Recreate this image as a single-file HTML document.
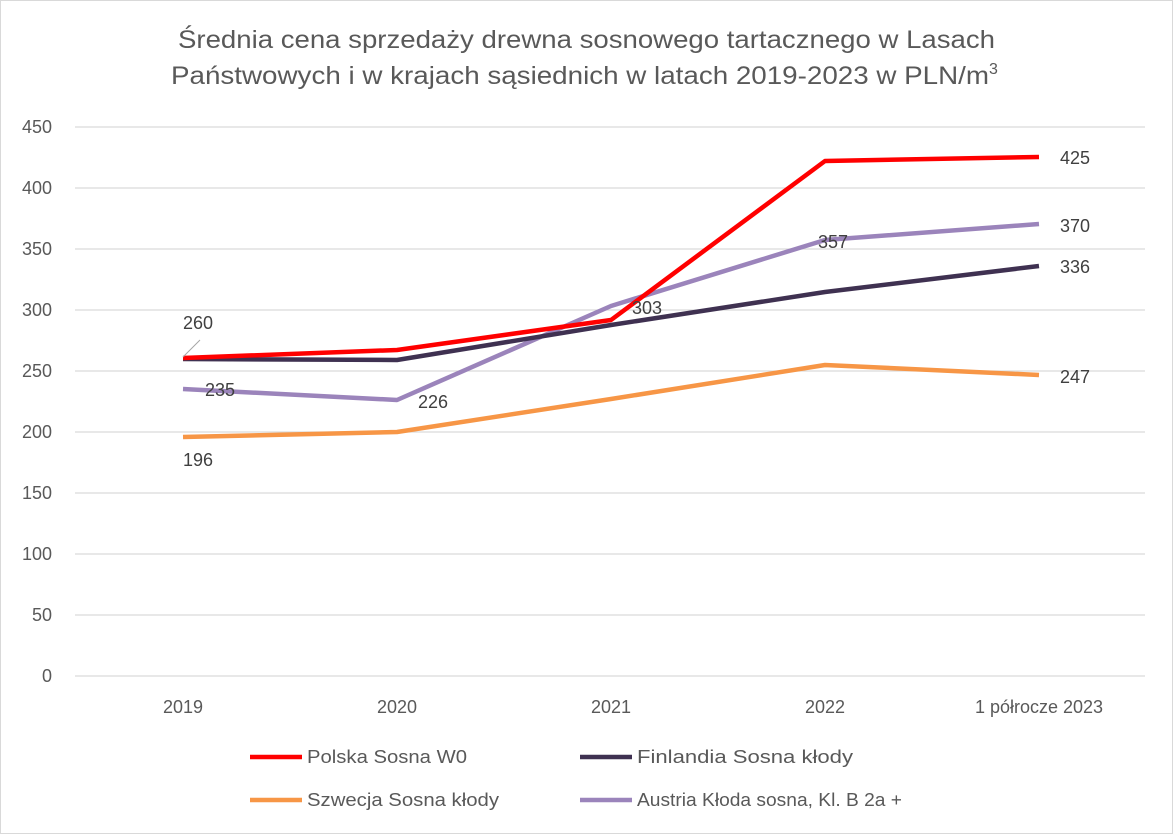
<!DOCTYPE html>
<html><head><meta charset="utf-8"><style>
html,body{margin:0;padding:0;background:#fff}
svg{display:block;font-family:"Liberation Sans",sans-serif}
</style></head><body>
<svg width="1173" height="834" viewBox="0 0 1173 834" xmlns="http://www.w3.org/2000/svg">
<rect x="0.5" y="0.5" width="1172" height="833" fill="#fff" stroke="#d9d9d9"/>
<g fill="#595959" font-size="25">
<text x="178" y="48" textLength="817" lengthAdjust="spacingAndGlyphs">Średnia cena sprzedaży drewna sosnowego tartacznego w Lasach</text>
<text x="171" y="84"><tspan textLength="818" lengthAdjust="spacingAndGlyphs">Państwowych i w krajach sąsiednich w latach 2019-2023 w PLN/m</tspan><tspan font-size="16" dy="-10">3</tspan></text>
</g>
<g stroke="#d9d9d9" stroke-width="1.3">
<line x1="75" x2="1145" y1="127" y2="127"/><line x1="75" x2="1145" y1="188" y2="188"/>
<line x1="75" x2="1145" y1="249" y2="249"/><line x1="75" x2="1145" y1="310" y2="310"/>
<line x1="75" x2="1145" y1="371" y2="371"/><line x1="75" x2="1145" y1="432" y2="432"/>
<line x1="75" x2="1145" y1="493" y2="493"/><line x1="75" x2="1145" y1="554" y2="554"/>
<line x1="75" x2="1145" y1="615" y2="615"/><line x1="75" x2="1145" y1="676" y2="676"/>
</g>
<g fill="#595959" font-size="18" text-anchor="end">
<text x="52" y="133">450</text><text x="52" y="194">400</text><text x="52" y="255">350</text>
<text x="52" y="316">300</text><text x="52" y="377">250</text><text x="52" y="438">200</text>
<text x="52" y="499">150</text><text x="52" y="560">100</text><text x="52" y="621">50</text>
<text x="52" y="682">0</text>
</g>
<g fill="#595959" font-size="18" text-anchor="middle">
<text x="183" y="713">2019</text><text x="397" y="713">2020</text><text x="611" y="713">2021</text>
<text x="825" y="713">2022</text><text x="1039" y="713">1 półrocze 2023</text>
</g>
<g fill="none" stroke-width="4.5" stroke-linejoin="round">
<polyline stroke="#f79646" points="183,437 397,432 611,399 825,365 1039,375"/>
<polyline stroke="#9b84bb" points="183,389 397,400 611,306 825,240 1039,224"/>
<polyline stroke="#3f3151" points="183,359 397,360 611,325 825,292 1039,266"/>
<polyline stroke="#ff0000" points="183,358 397,350 611,320 825,161 1039,157"/>
</g>
<line x1="183" y1="357" x2="200" y2="340" stroke="#a6a6a6" stroke-width="1"/>
<g fill="#404040" font-size="18">
<text x="183" y="329">260</text><text x="205" y="396">235</text><text x="418" y="408">226</text>
<text x="183" y="466">196</text><text x="632" y="314">303</text><text x="818" y="248">357</text>
<text x="1060" y="164">425</text><text x="1060" y="232">370</text><text x="1060" y="273">336</text>
<text x="1060" y="383">247</text>
</g>
<g stroke-width="4.5">
<line x1="250" x2="302" y1="757" y2="757" stroke="#ff0000"/>
<line x1="580" x2="632" y1="757" y2="757" stroke="#3f3151"/>
<line x1="250" x2="302" y1="800" y2="800" stroke="#f79646"/>
<line x1="580" x2="632" y1="800" y2="800" stroke="#9b84bb"/>
</g>
<g fill="#595959" font-size="18">
<text x="307" y="763" textLength="160" lengthAdjust="spacingAndGlyphs">Polska Sosna W0</text>
<text x="637" y="763" textLength="216" lengthAdjust="spacingAndGlyphs">Finlandia Sosna kłody</text>
<text x="307" y="806" textLength="192" lengthAdjust="spacingAndGlyphs">Szwecja Sosna kłody</text>
<text x="637" y="806" textLength="265" lengthAdjust="spacingAndGlyphs">Austria Kłoda sosna, Kl. B 2a +</text>
</g>
</svg>
</body></html>
